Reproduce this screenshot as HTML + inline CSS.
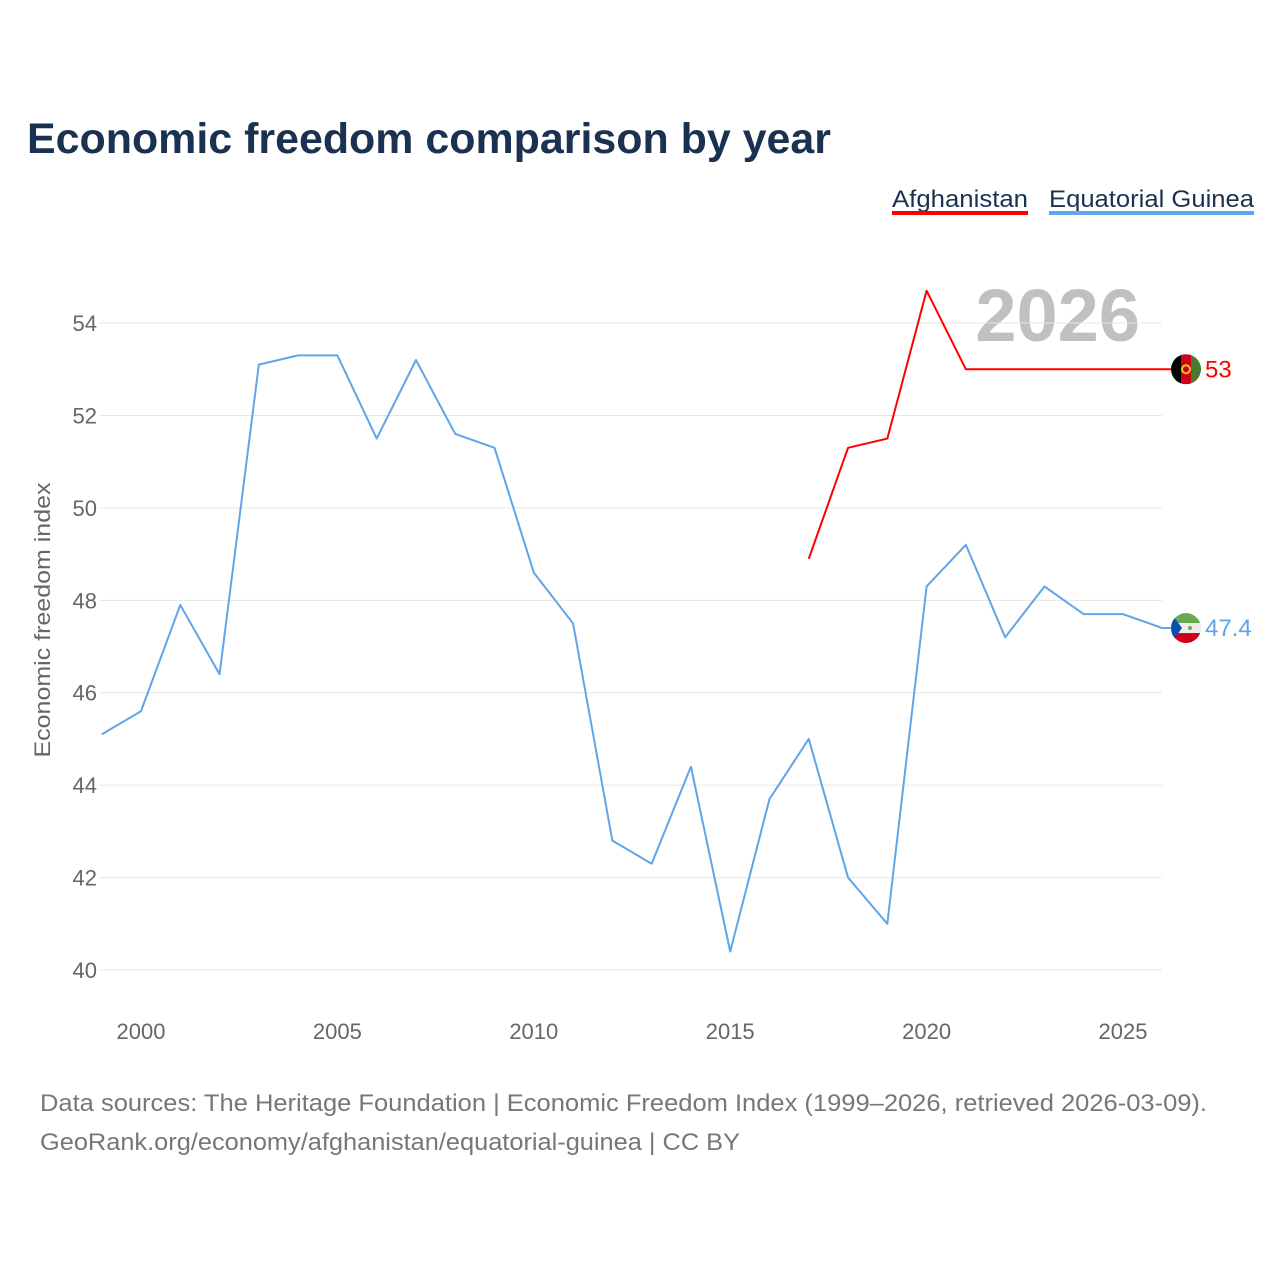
<!DOCTYPE html>
<html><head><meta charset="utf-8">
<style>
body{margin:0;background:#fff;width:1280px;height:1280px;overflow:hidden;font-family:"Liberation Sans",sans-serif;}
svg text{font-family:"Liberation Sans",sans-serif;}
</style></head>
<body>
<svg id="chart" width="1280" height="1280" xmlns="http://www.w3.org/2000/svg">
<text x="27" y="153" font-size="43" font-weight="bold" fill="#1b3152" textLength="804" lengthAdjust="spacingAndGlyphs">Economic freedom comparison by year</text>
<g>
<text x="892" y="207" font-size="24" fill="#1b3152" textLength="136" lengthAdjust="spacingAndGlyphs">Afghanistan</text>
<rect x="892" y="211" width="136" height="4" fill="#ff0000"/>
</g>
<g>
<text x="1049" y="207" font-size="24" fill="#1b3152" textLength="205" lengthAdjust="spacingAndGlyphs">Equatorial Guinea</text>
<rect x="1049" y="211" width="205" height="4" fill="#5fa5e8"/>
</g>
<text x="1140" y="341" font-size="74" font-weight="bold" fill="#c0c0c0" text-anchor="end">2026</text>
<text transform="translate(50,620) rotate(-90)" font-size="22" fill="#666" text-anchor="middle" textLength="275" lengthAdjust="spacingAndGlyphs">Economic freedom index</text>
<g id="grid"></g><g id="yticks"></g><g id="xticks"></g><g id="series"></g>
<text x="40" y="1111" font-size="24" fill="#777" textLength="1167" lengthAdjust="spacingAndGlyphs">Data sources: The Heritage Foundation | Economic Freedom Index (1999–2026, retrieved 2026-03-09).</text>
<text x="40" y="1150" font-size="24" fill="#777" textLength="700" lengthAdjust="spacingAndGlyphs">GeoRank.org/economy/afghanistan/equatorial-guinea | CC BY</text>
</svg>
<script>
const yTicks=[40,42,44,46,48,50,52,54];
const xTicks=[2000,2005,2010,2015,2020,2025];
const eqgYears=[1999,2000,2001,2002,2003,2004,2005,2006,2007,2008,2009,2010,2011,2012,2013,2014,2015,2016,2017,2018,2019,2020,2021,2022,2023,2024,2025,2026];
const eqgValues=[45.1,45.6,47.9,46.4,53.1,53.3,53.3,51.5,53.2,51.6,51.3,48.6,47.5,42.8,42.3,44.4,40.4,43.7,45.0,42.0,41.0,48.3,49.2,47.2,48.3,47.7,47.7,47.4];
const afgYears=[2017,2018,2019,2020,2021,2022,2023,2024,2025,2026];
const afgValues=[48.9,51.3,51.5,54.7,53.0,53.0,53.0,53.0,53.0,53.0];
const NS='http://www.w3.org/2000/svg';
const xs=y=>141+(y-2000)*39.28;
const ys=v=>970-(v-40)*46.21;
function mk(tag,attrs,parent){const e=document.createElementNS(NS,tag);for(const k in attrs)e.setAttribute(k,attrs[k]);document.getElementById(parent).appendChild(e);return e;}
yTicks.forEach(t=>{
 const l=mk('line',{x1:100,x2:1162,y1:ys(t),y2:ys(t),stroke:'#e6e6e6','stroke-width':1},'grid');
 
 
 const tx=mk('text',{x:97,y:ys(t)+8,'font-size':22,fill:'#666','text-anchor':'end'},'yticks');
 tx.textContent=t;
 
 
});
xTicks.forEach(t=>{
 const tx=mk('text',{x:xs(t),y:1039,'font-size':22,fill:'#666','text-anchor':'middle'},'xticks');
 tx.textContent=t;
 
 
});
function series(years,vals,color,name){
 let pts=years.map((y,i)=>xs(y)+','+ys(vals[i]));
 pts.push((xs(years[years.length-1])+10)+','+ys(vals[vals.length-1]));
 const p=mk('polyline',{points:pts.join(' '),fill:'none',stroke:color,'stroke-width':2,'stroke-linejoin':'round'},'series');
 
 
}
series(eqgYears,eqgValues,'#5fa5e8','equatorial-guinea');
series(afgYears,afgValues,'#ff0000','afghanistan');
const cx=1186;
const ay=ys(afgValues[afgValues.length-1]), ey=ys(eqgValues[eqgValues.length-1]);
const s=document.getElementById('series');
s.insertAdjacentHTML('beforeend',
`<defs><clipPath id="ca"><circle cx="${cx}" cy="${ay}" r="15"/></clipPath><clipPath id="ce"><circle cx="${cx}" cy="${ey}" r="15"/></clipPath></defs>
<g clip-path="url(#ca)">
<rect x="${cx-15}" y="${ay-15}" width="10" height="30" fill="#000"/><rect x="${cx-5}" y="${ay-15}" width="10" height="30" fill="#d0021b"/><rect x="${cx+5}" y="${ay-15}" width="10" height="30" fill="#4a7a2c"/>
<circle cx="${cx}" cy="${ay}" r="4" fill="none" stroke="#f5c518" stroke-width="2"/></g>
<g clip-path="url(#ce)">
<rect x="${cx-15}" y="${ey-15}" width="30" height="10" fill="#6aa84f"/><rect x="${cx-15}" y="${ey-5}" width="30" height="10" fill="#eee"/><rect x="${cx-15}" y="${ey+5}" width="30" height="10" fill="#d0021b"/>
<polygon points="${cx-15},${ey-15} ${cx-4},${ey} ${cx-15},${ey+15}" fill="#0b4fb0"/><circle cx="${cx+4}" cy="${ey}" r="2" fill="#6aa84f"/></g>
<text x="1205" y="${ay+8}" font-size="24" fill="#ff0000">${afgValues[afgValues.length-1]}</text>
<text x="1205" y="${ey+8}" font-size="24" fill="#5fa5e8">${eqgValues[eqgValues.length-1]}</text>`);
</script>
</body></html>
